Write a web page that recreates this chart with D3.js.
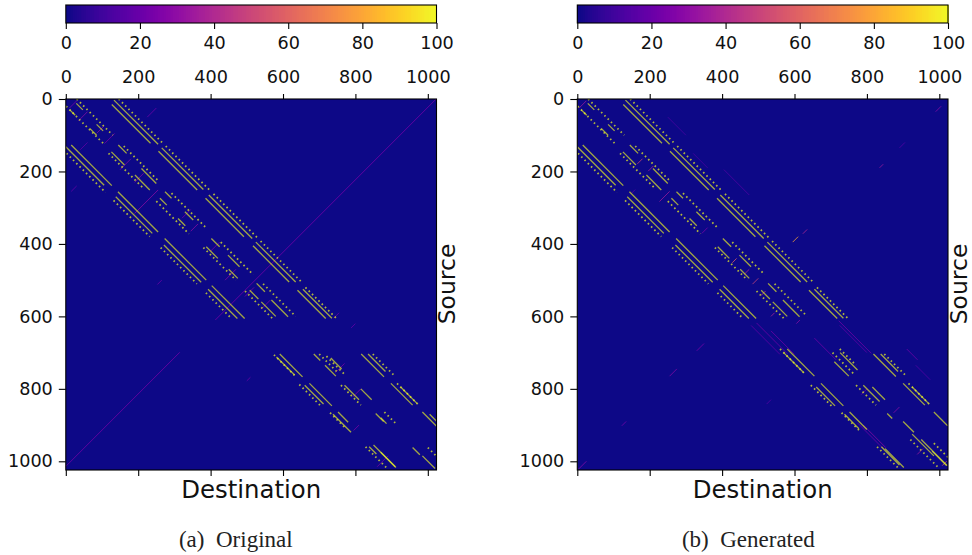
<!DOCTYPE html>
<html><head><meta charset="utf-8"><script src="https://cdn.jsdelivr.net/npm/d3@7"></script>
<style>html,body{margin:0;background:#fff}svg{display:block}</style></head><body><svg id="c" width="972" height="555"></svg>
<script>
const cbTicks=[0,20,40,60,80,100];
const axisTicks=[0,200,400,600,800,1000];
const captions=["(a)  Original","(b)  Generated"];
// diagonals: [source, destination, length, value]
const upperSolid=[[15,127,107,100],[144,256,107,100],[274,386,106,100],[405,517,100,100],[528,640,78,100],
[3,133,122,100],[135,265,115,100],[265,395,120,100],[395,525,110,100],[525,655,80,100],
[127,15,112,100],[256,144,111,100],[385,273,115,100],[515,403,91,100],
[132,0,106,100],[270,138,101,100],[403,271,103,100],[525,393,81,100],
[12,29,18,100],[70,85,18,100],[81,66,19,100],[30,11,15,100],
[146,126,36,100],[210,191,41,100],[127,145,23,100],[192,209,41,100],
[274,260,19,100],[330,310,20,100],[256,274,18,100],[311,329,23,100],
[408,388,32,100],[470,450,25,100],[385,402,23,100],[431,448,32,100],
[528,508,24,100],[560,540,40,100],[509,527,23,100],[555,568,46,100]];
const upperDotted=[[0,146,125,100],[130,276,125,100],[262,408,120,100],[392,538,115,100],[520,662,86,100],
[150,2,108,100],[280,132,100,100],[410,262,100,100],[535,387,70,100],
[20,1,105,100],[0,30,100,100],[150,118,95,100],[130,160,95,100],[282,250,90,100],[260,292,95,100],[410,380,90,100],[395,428,90,100],[530,495,75,100],[510,545,90,100]];
const lowerSolidA=[[704,591,63,100],[712,582,50,100],[704,685,18,100],[735,716,30,100],[715,732,30,100],[704,816,63,100],[704,835,48,100],
[785,673,62,100],[790,660,52,100],[790,770,40,100],[800,815,30,100],[785,898,60,100],[795,925,45,100],
[864,752,28,100],[870,738,50,100],[868,856,22,100],[880,870,16,100],[864,985,40,100],[870,1005,20,100],
[960,838,20,100],[955,850,62,100],[975,870,40,100],[962,958,20,100],[985,985,35,100]];
const lowerDottedA=[[706,575,60,100],[704,700,50,100],[710,720,48,100],[704,848,60,100],[788,645,58,100],[790,760,55,100],[785,915,60,100],[866,730,40,100],[864,880,30,100],[960,828,60,100],[962,1000,22,100]];
const lowerSolidB=[[690,580,75,100],[700,570,55,100],[725,710,40,100],[700,726,48,100],[704,818,62,100],[704,838,48,100],[785,673,62,100],[795,660,52,100],[790,790,45,100],[795,815,35,100],[785,900,60,100],[795,925,45,100],
[864,752,48,100],[870,738,40,100],[868,856,14,100],[890,900,30,100],[925,925,60,100],[940,950,72,100],[864,985,38,100],[960,840,50,100],[965,850,52,100],[972,980,40,100]];
const lowerDottedB=[[690,560,70,100],[700,705,62,100],[690,725,45,100],[704,848,60,100],[790,645,58,100],[790,770,55,100],[785,915,60,100],[866,730,50,100],[940,920,80,100],[950,985,60,100],[960,828,60,100]];
// long faint diagonals of the generated panel
const faintB=[[618,495,85,22],[625,480,80,18],[640,535,65,22],[900,790,62,28],[895,775,70,22],[660,655,60,22],[612,722,90,22],[625,725,75,18],[690,910,30,22],[50,250,50,12],[195,405,70,14],[150,320,40,12],[735,935,40,15]];
// anti-diagonals: [source, destination, length, value]
const antiA=[[0,1023,610,24],[699,315,324,24],[5,30,20,25],[35,60,25,30],[75,105,20,30],[95,135,28,24],[165,180,30,28],[205,215,25,28],[251,255,65,30],[305,345,24,25],[345,365,20,30],[395,425,25,25],[470,470,30,28],[520,520,25,28],[555,565,25,28],[25,250,25,22],[120,60,20,18],[240,30,15,20],[500,265,12,22],[620,800,12,20],[768,510,10,22],[590,755,15,22],[730,770,25,25],[800,815,22,28],[900,810,15,25],[985,890,30,24]];
const antiB=[[380,610,15,80],[360,635,12,40],[180,845,10,35],[20,1005,15,30],[120,905,15,16],[675,350,20,25],[745,275,20,28],[890,135,12,25],[1000,25,22,30],[5,25,20,35],[165,180,14,50],[185,210,14,38],[255,255,28,35],[355,360,16,25],[440,440,12,60],[470,475,14,40],[495,500,16,50],[530,520,12,45],[590,545,10,40],[610,615,10,30],[800,800,16,25],[850,890,16,30],[965,955,16,35],[1000,1020,12,60],[250,160,12,16],[830,535,12,16]];
const W=370.7,H=371,DOM=1024;
function panel(ox,solid,dotted,anti,faint,caption,capX){
  const svg=d3.select("#c"),g=svg.append("g").attr("transform",`translate(${ox},0)`);
  const x=d3.scaleLinear().domain([0,DOM]).range([0,W]),y=d3.scaleLinear().domain([0,DOM]).range([99,99+H]);
  const col=d3.scaleSequential(d3.interpolatePlasma).domain([0,100]);
  const cpId="cp"+Math.round(ox);
  g.append("clipPath").attr("id",cpId).append("rect").attr("x",0).attr("y",99).attr("width",W).attr("height",H);
  const cb=d3.scaleLinear().domain([0,100]).range([0,W]);
  g.append("g").attr("shape-rendering","crispEdges").selectAll("rect").data(d3.range(0,100,.5)).join("rect").attr("x",d=>cb(d)).attr("y",5).attr("width",W/200+1).attr("height",18).attr("fill",d=>col(d));
  g.append("rect").attr("y",5).attr("width",W).attr("height",18).attr("fill","none").attr("stroke","#000").attr("stroke-width",1.1);
  const ab=g.append("g").attr("transform","translate(0,23)").call(d3.axisBottom(cb).tickValues(cbTicks).tickSize(6).tickPadding(7.5).tickFormat(d3.format("d")));
  const m=g.append("g");
  m.append("rect").attr("x",0).attr("y",99).attr("width",W).attr("height",H).attr("fill",col(0));
  const d1=m.append("g").attr("clip-path",`url(#${cpId})`);
  const diag=(sel,cls,data)=>sel.selectAll("line."+cls).data(data).join("line").attr("class",cls).attr("x1",d=>x(d[1])).attr("y1",d=>y(d[0])).attr("x2",d=>x(d[1]+d[2])).attr("y2",d=>y(d[0]+d[2])).attr("stroke",d=>col(d[3]));
  diag(d1,"f",faint).attr("stroke-width",1).attr("stroke-opacity",.75);
  d1.selectAll("line.a").data(anti).join("line").attr("class","a").attr("x1",d=>x(d[1])).attr("y1",d=>y(d[0])).attr("x2",d=>x(d[1]-d[2])).attr("y2",d=>y(d[0]+d[2])).attr("stroke",d=>col(d[3])).attr("stroke-width",1).attr("stroke-opacity",.75);
  diag(d1,"s",solid).attr("stroke-width",1.3).attr("stroke-opacity",.66);
  diag(d1,"d",dotted).attr("stroke-width",1.8).attr("stroke-opacity",.72).attr("stroke-dasharray","1.6 3");
  g.append("rect").attr("x",0).attr("y",99).attr("width",W).attr("height",H).attr("fill","none").attr("stroke","#000").attr("stroke-width",1.1);
  const at=g.append("g").attr("transform","translate(0,99)").call(d3.axisTop(x).tickValues(axisTicks).tickSize(5).tickPadding(11).tickFormat(d3.format("d")));
  const al=g.append("g").call(d3.axisLeft(y).tickValues(axisTicks).tickSize(7).tickPadding(6).tickFormat(d3.format("d")));
  const ac=g.append("g").attr("transform",`translate(0,${99+H})`).call(d3.axisBottom(x).tickValues(axisTicks).tickSize(6).tickFormat(""));
  [ab,at,al,ac].forEach(a=>{a.select(".domain").remove();a.selectAll("text").attr("font-family","DejaVu Sans").attr("font-size",17.6).attr("fill","#111");a.selectAll("line").attr("stroke","#000").attr("stroke-width",1.1);});
  g.append("text").attr("x",W/2).attr("y",498).attr("text-anchor","middle").attr("font-family","DejaVu Sans").attr("font-size",24.4).attr("fill","#111").text("Destination");
  g.append("text").attr("transform",`translate(${W+18.5},284) rotate(-90)`).attr("text-anchor","middle").attr("font-family","DejaVu Sans").attr("font-size",23.5).attr("fill","#111").text("Source");
  g.append("text").attr("x",capX).attr("y",547).attr("text-anchor","middle").attr("font-family","Liberation Serif").attr("font-size",23).style("white-space","pre").attr("fill","#222").text(caption);
}
panel(65.8,[...upperSolid,...lowerSolidA],[...upperDotted,...lowerDottedA],antiA,[],captions[0],170);
panel(577.3,[...upperSolid,...lowerSolidB],[...upperDotted,...lowerDottedB],antiB,faintB,captions[1],171);
</script></body></html>
